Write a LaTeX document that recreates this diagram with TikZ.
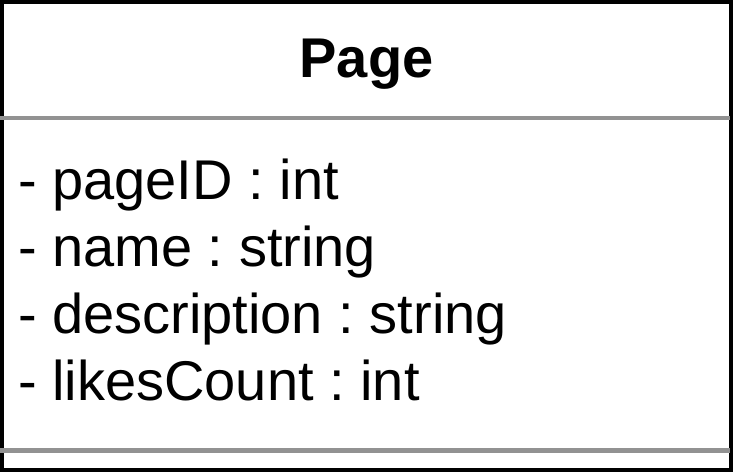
\documentclass[tikz,border=0pt]{standalone}
\usepackage{fontspec}
\setmainfont{Liberation Sans}
\frenchspacing
\definecolor{sepgray}{HTML}{929292}
\begin{document}
\begin{tikzpicture}[x=1pt,y=-1pt,
        attr/.style={anchor=base west,inner sep=0pt,font=\fontsize{56}{67}\selectfont},
        title/.style={anchor=base,inner sep=0pt,font=\fontsize{56}{67}\selectfont\bfseries},
        sep/.style={draw=sepgray,line width=4.5pt}]
        \useasboundingbox (0,0) rectangle (733,472);
        % class box
        \draw[line width=4pt] (2,2) rectangle (731,470);
        \draw[sep] (0,118) -- (729.5,118);
        \draw[sep] (0,450.5) -- (729.5,450.5);
        \node[title] (name) at (366.5,77) {Page};
        % attributes
        \node[attr] (pageid) at (18,199) {- pageID : int};
        \node[attr] (pname) at (18,266) {- name : string};
        \node[attr] (descr) at (18,333) {- description : string};
        \node[attr] (likes) at (18,400) {- likesCount : int};
    \end{tikzpicture}
\end{document}
